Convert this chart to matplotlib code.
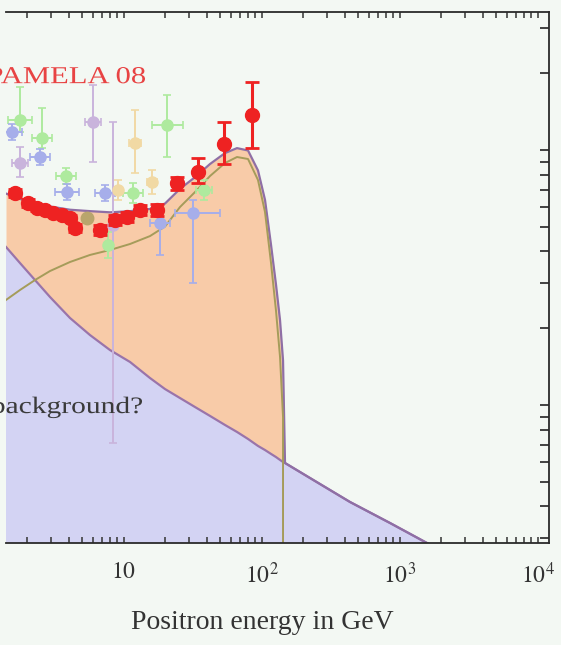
import numpy as np
import matplotlib
matplotlib.use("Agg")
import matplotlib.pyplot as plt
import matplotlib.transforms as mtransforms
from matplotlib.font_manager import FontProperties
from matplotlib.patches import PathPatch
from matplotlib.textpath import TextPath
from matplotlib.ticker import FixedLocator, FixedFormatter, LogLocator, NullFormatter

plt.rcParams["font.family"] = ["Liberation Serif", "DejaVu Serif"]
plt.rcParams["mathtext.fontset"] = "stix"

# PAMELA 2008 positron fraction
pamela_e = [1.636, 2.03, 2.36, 2.70, 3.08, 3.58, 4.10, 4.45, 6.76, 8.68,
            10.6, 13.2, 17.5, 24.4, 34.7, 53.5, 85.3]
pamela_f = [0.0678, 0.0620, 0.0592, 0.0582, 0.0566, 0.0556, 0.0541, 0.0494,
            0.0486, 0.0531, 0.0546, 0.0582, 0.0582, 0.0742, 0.0820, 0.1056, 0.1372]
pamela_lo = [0.0655, 0.0600, 0.0575, 0.0565, 0.0550, 0.0540, 0.0525, 0.0475,
             0.0465, 0.0508, 0.0522, 0.0555, 0.0552, 0.0700, 0.0740, 0.0880, 0.1018]
pamela_hi = [0.0701, 0.0640, 0.0610, 0.0600, 0.0582, 0.0572, 0.0557, 0.0513,
             0.0507, 0.0554, 0.0570, 0.0609, 0.0612, 0.0785, 0.0930, 0.1288, 0.1848]

# older measurements: energy, fraction, energy bin edges, fraction error bounds
green_e = [1.778, 2.567, 3.83, 7.72, 11.72, 20.67, 38.3]
green_f = [0.1311, 0.1115, 0.0791, 0.0424, 0.0678, 0.1253, 0.0697]
green_elo = [1.456, 2.173, 3.243, 7.30, 9.92, 16.09, 33.5]
green_ehi = [2.173, 3.033, 4.528, 8.15, 13.85, 26.99, 43.8]
green_flo = [0.1177, 0.1018, 0.0736, 0.0377, 0.0620, 0.0939, 0.0637]
green_fhi = [0.1766, 0.1462, 0.0850, 0.0477, 0.0742, 0.1643, 0.0763]

blue_e = [1.556, 2.483, 3.90, 7.34, 18.39, 31.9]
blue_f = [0.1177, 0.0939, 0.0684, 0.0678, 0.0517, 0.0566]
blue_elo = [1.317, 2.101, 3.189, 6.22, 15.56, 23.61]
blue_ehi = [1.839, 2.934, 4.76, 8.68, 21.73, 50.04]
blue_flo = [0.1094, 0.0873, 0.0637, 0.0631, 0.0388, 0.0301]
blue_fhi = [0.1265, 0.1009, 0.0736, 0.0729, 0.0609, 0.0637]

purple_e = [1.778, 6.01, 8.39]
purple_f = [0.0889, 0.1288, 0.0508]
purple_elo = [1.556, 5.26, 8.10]
purple_ehi = [2.03, 6.87, 8.70]
purple_flo = [0.0784, 0.0897, 0.0071]
purple_fhi = [0.1027, 0.1799, 0.1288]

yellow_e = [9.12, 12.12, 16.09]
yellow_f = [0.0697, 0.1065, 0.0749]
yellow_elo = [8.70, 10.96, 14.9]
yellow_ehi = [9.55, 13.39, 17.4]
yellow_flo = [0.0637, 0.0813, 0.0672]
yellow_fhi = [0.0763, 0.1435, 0.0835]

olive_e = [5.44]
olive_f = [0.0541]

# model: secondary background and dark matter signal on a common energy grid
model_e = np.array([1.408, 1.778, 2.284, 2.934, 4.096, 5.717, 7.98, 11.15,
                    15.56, 19.99, 25.67, 32.97, 42.36, 54.39, 66.45, 79.85,
                    94.3, 106.0, 117.2, 127.4, 136.2, 143.2, 148.0,
                    265.4, 437.8, 853.5, 1582.0, 3831.0])
background = np.array([0.04166, 0.03604, 0.03091, 0.02652, 0.02194, 0.01881,
                       0.01643, 0.01475, 0.01276, 0.01155, 0.01065, 0.00982,
                       0.00906, 0.00835, 0.00784, 0.00736, 0.00691, 0.00666,
                       0.00643, 0.00625, 0.00609, 0.00598, 0.005924,
                       0.00490, 0.004166, 0.003446, 0.002876, 0.002229])
dm_signal = np.array([0.02582, 0.02825, 0.03091, 0.03353, 0.03638, 0.03877,
                      0.04054, 0.04280, 0.04597, 0.05012, 0.05976, 0.06842,
                      0.07907, 0.08892, 0.09387, 0.09221, 0.07626, 0.05712,
                      0.03604, 0.02336, 0.01543, 0.008971, 0.0,
                      0.0, 0.0, 0.0, 0.0, 0.0])
total = background + dm_signal

xticks = [10, 100, 1000, 10000]
xtick_labels = ["$10$", "$10^2$", "$10^3$", "$10^4$"]

BG = "#f3f8f3"
fig = plt.figure(figsize=(5.61, 6.45), dpi=100, facecolor=BG)
ax = fig.add_axes([0.0107, 0.1581, 0.9679, 0.8233], facecolor=BG)
ax.set_xscale("log")
ax.set_yscale("log")
ax.set_xlim(1.408, 12110)
ax.set_ylim(0.002876, 0.3477)

ax.fill_between(model_e, 1e-4, background, color="#d3d3f3", lw=0, zorder=1)
ax.fill_between(model_e, background, total, color="#f8cba8", lw=0, zorder=1)
ax.plot(model_e, background, color="#9a74aa", lw=1.6, zorder=2)
ax.plot(model_e, total, color="#8f6fa5", lw=1.6, zorder=2)
ax.plot(model_e, dm_signal, color="#a59c5a", lw=1.4, zorder=2)


def draw_set(e, f, elo, ehi, flo, fhi, color):
    e, f = np.array(e), np.array(f)
    ax.errorbar(e, f,
                xerr=[e - np.array(elo), np.array(ehi) - e],
                yerr=[f - np.array(flo), np.array(fhi) - f],
                fmt="o", ms=8, color=color, mec=color, elinewidth=1.4,
                capsize=3, capthick=1.2, zorder=3)


def wide_text(x, y, s, size, color, stretch):
    """Serif text widened horizontally; (x, y) is the right end of the
    baseline in axes fraction."""
    path = TextPath((0, 0), s, size=size,
                    prop=FontProperties(family="Liberation Serif"))
    k = fig.dpi / 72
    trans = (mtransforms.Affine2D().translate(-path.get_extents().x1, 0)
             .scale(stretch * k, k)
             + mtransforms.ScaledTranslation(x, y, ax.transAxes))
    ax.add_patch(PathPatch(path, facecolor=color, lw=0, transform=trans,
                           clip_on=False, zorder=6))


draw_set(green_e, green_f, green_elo, green_ehi, green_flo, green_fhi, "#aeea9e")
draw_set(blue_e, blue_f, blue_elo, blue_ehi, blue_flo, blue_fhi, "#a6aeea")
draw_set(purple_e, purple_f, purple_elo, purple_ehi, purple_flo, purple_fhi, "#c9b4dc")
draw_set(yellow_e, yellow_f, yellow_elo, yellow_ehi, yellow_flo, yellow_fhi, "#f1d9a4")
ax.plot(olive_e, olive_f, "o", ms=9, color="#b9a56c", zorder=3)

pe, pf = np.array(pamela_e), np.array(pamela_f)
ax.errorbar(pe, pf, yerr=[pf - np.array(pamela_lo), np.array(pamela_hi) - pf],
            fmt="o", ms=10, color="#ee2222", mec="#ee2222", elinewidth=2.2,
            capsize=5, capthick=2, zorder=5)

wide_text(0.256, 0.866, "PAMELA 08", 17.5, "#e84343", 1.26)
wide_text(0.2505, 0.2448, "background?", 17, "#3a3a3a", 1.25)

ax.xaxis.set_major_locator(FixedLocator(xticks))
ax.xaxis.set_major_formatter(FixedFormatter(xtick_labels))
ax.xaxis.set_minor_locator(LogLocator(base=10, subs=np.arange(2, 10), numticks=30))
ax.xaxis.set_minor_formatter(NullFormatter())
ax.tick_params(axis="x", which="both", direction="in", top=True, bottom=True,
               length=4.5, width=1.1, color="#333333", labelsize=17, pad=14,
               labelcolor="#333333")
ax.yaxis.set_minor_locator(LogLocator(base=10, subs=np.arange(2, 10), numticks=30))
ax.tick_params(axis="y", which="both", direction="in", left=False, right=True,
               labelleft=False, labelright=False, length=6.5, width=1.3,
               color="#333333")
ax.spines["left"].set_visible(False)
for side in ["top", "bottom", "right"]:
    ax.spines[side].set_color("#2a2a2a")
    ax.spines[side].set_linewidth(1.3)

ax.set_xlabel("Positron energy in GeV", fontsize=20, color="#333333")
ax.xaxis.set_label_coords(0.4715, -0.126)

fig.savefig("out.png", dpi=100, facecolor=fig.get_facecolor())
